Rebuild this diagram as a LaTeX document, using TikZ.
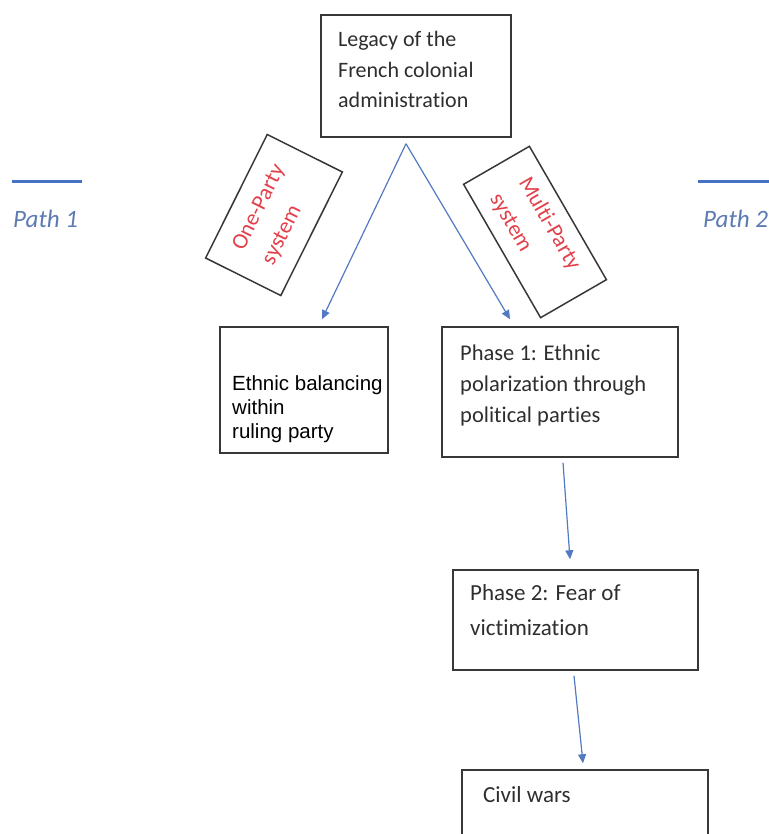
\documentclass[tikz,border=0pt]{standalone}
\usepackage{fontspec}
\setmainfont{Carlito}[Ligatures=NoCommon]
\newfontfamily\arialfont{Liberation Sans}
\usetikzlibrary{arrows.meta,positioning}
\definecolor{boxline}{HTML}{383838}
\definecolor{flowblue}{HTML}{5279C2}
\definecolor{pathblue}{HTML}{4472C4}
\definecolor{pathtext}{HTML}{5C7BB3}
\definecolor{partyred}{HTML}{E2414B}
\definecolor{bodytext}{HTML}{2E2E2E}

\begin{document}
\begin{tikzpicture}[x=1pt,y=-1pt,
  box/.style={draw=boxline,line width=1.5pt,inner sep=0pt},
  txt/.style={text=bodytext,align=left,inner sep=0pt,anchor=base west},
  partytag/.style={box,text=partyred,align=left,
    font=\fontsize{22.5}{33}\selectfont},
  flow/.style={draw=flowblue,line width=1.2pt,
    -{Triangle[length=9pt,width=8pt]}},
  pathline/.style={draw=pathblue,line width=3pt},
  pathlbl/.style={text=pathtext,inner sep=0pt,anchor=base west,
    font=\fontsize{25}{30}\selectfont\itshape}]
\useasboundingbox (0,0) rectangle (768,834);
% boxes
\node[box,minimum width=190,minimum height=122] (legacy) at (416,76) {};
\node[box,minimum width=168,minimum height=126] (balance) at (304,390) {};
\node[box,minimum width=236,minimum height=130] (phase1) at (560,392) {};
\node[box,minimum width=245,minimum height=100] (phase2) at (575.5,620) {};
\node[box,minimum width=246,minimum height=100] (civil) at (585,820) {};
% texts (anchored at the last baseline)
\node[txt,font=\fontsize{22}{30.5}\selectfont] (legacyT) at (338,108)
  {Legacy of the\\French colonial\\administration};
\node[txt,text=black,font=\arialfont\fontsize{20.5}{24}\selectfont] (balanceT) at (232,438)
  {Ethnic balancing\\within\\ruling party};
\node[txt,font=\fontsize{22.5}{31}\selectfont] (phase1T) at (460,422)
  {Phase 1: Ethnic\\polarization through\\political parties};
\node[txt,font=\fontsize{23}{35}\selectfont] (phase2T) at (470,635)
  {Phase 2: Fear of\\victimization};
\node[txt,font=\fontsize{23}{30}\selectfont] (civilT) at (483,802) {Civil wars};
% rotated tags
\node[partytag,rotate=63.5,minimum width=138,minimum height=84] (onep) at (274,215)
  {One-Party\\system};
\node[partytag,rotate=-60,minimum width=154,minimum height=76] (multip) at (535,232)
  {Multi-Party\\system};
% arrows
\coordinate (fork) at ([xshift=-10pt,yshift=-6pt]legacy.south);
\draw[flow] (fork) -- ([xshift=18pt,yshift=7pt]balance.north);
\draw[flow] (fork) -- ([xshift=-50pt,yshift=7pt]phase1.north);
\draw[flow] ([xshift=3pt,yshift=-5pt]phase1.south) -- ([xshift=-5.5pt,yshift=10pt]phase2.north);
\draw[flow] ([xshift=-1.5pt,yshift=-5pt]phase2.south) -- ([xshift=-2pt,yshift=6pt]civil.north);
% paths
\draw[pathline] (12,182) -- (82,182);
\node[pathlbl] (path1) at (13,227) {Path 1};
\draw[pathline] (698,182) -- (770,182);
\node[pathlbl] (path2) at (703,227) {Path 2};
\end{tikzpicture}
\end{document}
